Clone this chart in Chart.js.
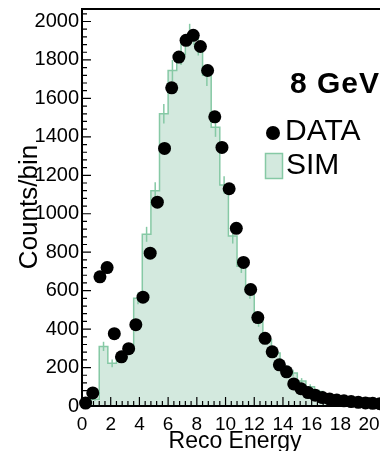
<!DOCTYPE html>
<html>
<head>
<meta charset="utf-8">
<script src="https://cdn.jsdelivr.net/npm/chart.js@4.4.0/dist/chart.umd.min.js"></script>
<style>
  html, body { margin: 0; padding: 0; background: #fff; overflow: hidden; }
  #wrap { width: 380px; height: 451px; overflow: hidden; }
  canvas { display: block; }
</style>
</head>
<body>
<div id="wrap"><canvas id="chart" width="433" height="451"></canvas></div>
<script>
// DATA points (bin centres, 0.5 wide bins)
const dataEnergy = [
  0.25, 0.75, 1.25, 1.75, 2.25, 2.75, 3.25, 3.75, 4.25, 4.75,
  5.25, 5.75, 6.25, 6.75, 7.25, 7.75, 8.25, 8.75, 9.25, 9.75,
  10.25, 10.75, 11.25, 11.75, 12.25, 12.75, 13.25, 13.75, 14.25, 14.75,
  15.25, 15.75, 16.25, 16.75, 17.25, 17.75, 18.25, 18.75, 19.25, 19.75,
  20.25, 20.75, 21.25, 21.75, 22.25, 22.75, 23.25, 23.75
];
const dataCounts = [
  15, 68, 672, 720, 376, 256, 298, 423, 566, 795,
  1060, 1340, 1655, 1815, 1902, 1928, 1870, 1745, 1504, 1345,
  1130, 924, 747, 606, 460, 352, 282, 214, 178, 115,
  90, 70, 56, 44, 36, 31, 27, 23, 19, 16,
  14, 12, 10, 9, 8, 7, 6, 5
];

// SIM histogram (0.6 wide bins starting at 0)
const simBinWidth = 0.6;
const simCounts = [
  12, 35, 310, 222, 255, 290, 560, 893, 1120, 1520,
  1745, 1830, 1930, 1880, 1720, 1450, 1150, 884, 727, 590,
  440, 345, 276, 205, 171, 130, 100, 75, 55, 42,
  32, 25, 20, 16, 13, 10, 8, 7, 6, 5
];
const simErrors = [
  5, 8, 24, 20, 21, 22, 31, 39, 44, 51,
  55, 56, 58, 57, 55, 50, 45, 39, 35, 32,
  28, 24, 22, 19, 17, 15, 13, 11, 10, 8,
  7, 7, 6, 5, 5, 4, 4, 3, 3, 3
];

const xTickValues = [0, 2, 4, 6, 8, 10, 12, 14, 16, 18, 20, 22, 24];
const yTickValues = [0, 200, 400, 600, 800, 1000, 1200, 1400, 1600, 1800, 2000];
const xMax = 24;
const yMax = 2065;

const simLine = "#86c9a5";
const simFill = "#d3e9de";
const fontName = "'Liberation Sans', Arial, Helvetica, sans-serif";

// step points: low edges plus the closing edge
const simPoints = simCounts.map((v, i) => ({ x: i * simBinWidth, y: v }));
simPoints.push({ x: simCounts.length * simBinWidth, y: simCounts[simCounts.length - 1] });

const dataPoints = dataEnergy.map((e, i) => ({ x: e, y: dataCounts[i] }));

// ------------------------------------
// frame, inside ticks, titles, legend
// ------------------------------------
const rootStyle = {
  id: "rootStyle",
  afterDatasetDraw(chart, args) {
    if (args.index !== 1) return;
    const ctx = chart.ctx;
    const xs = chart.scales.x, ys = chart.scales.y;
    ctx.save();
    ctx.strokeStyle = simLine;
    ctx.lineWidth = 1.5;
    simCounts.forEach((v, i) => {
      const px = xs.getPixelForValue((i + 0.5) * simBinWidth);
      ctx.beginPath();
      ctx.moveTo(px, ys.getPixelForValue(v - simErrors[i]));
      ctx.lineTo(px, ys.getPixelForValue(v + simErrors[i]));
      ctx.stroke();
    });
    ctx.restore();
  },
  afterDraw(chart) {
    const ctx = chart.ctx;
    const a = chart.chartArea;
    const xs = chart.scales.x, ys = chart.scales.y;
    ctx.save();

    // ticks inside the frame
    ctx.strokeStyle = "#000";
    ctx.lineWidth = 1.2;
    ctx.beginPath();
    for (let v = 0; v <= yMax; v += 40) {
      const y = ys.getPixelForValue(v);
      const len = v % 200 === 0 ? 9 : 5;
      ctx.moveTo(a.left, y);
      ctx.lineTo(a.left + len, y);
    }
    for (let i = 0; i * 0.4 <= xMax + 0.001; i++) {
      const x = xs.getPixelForValue(i * 0.4);
      const len = i % 5 === 0 ? 9 : 5;
      ctx.moveTo(x, a.bottom);
      ctx.lineTo(x, a.bottom - len);
    }
    ctx.stroke();

    // frame
    ctx.lineWidth = 2;
    ctx.strokeRect(a.left, a.top, a.right - a.left, a.bottom - a.top);

    // axis titles
    ctx.fillStyle = "#000";
    ctx.font = "23px " + fontName;
    ctx.textAlign = "center";
    ctx.textBaseline = "alphabetic";
    ctx.fillText("Reco Energy", 235, 448);

    ctx.save();
    ctx.translate(37, 207);
    ctx.rotate(-Math.PI / 2);
    ctx.font = "26px " + fontName;
    ctx.fillText("Counts/bin", 0, 0);
    ctx.restore();

    // energy label and legend
    ctx.textAlign = "left";
    ctx.font = "bold 30px " + fontName;
    ctx.letterSpacing = "1px";
    ctx.fillText("8 GeV", 290, 93);
    ctx.letterSpacing = "0px";

    ctx.beginPath();
    ctx.arc(273, 133, 7, 0, Math.PI * 2);
    ctx.fill();
    ctx.font = "30px " + fontName;
    ctx.fillText("DATA", 285, 140);

    ctx.fillStyle = simFill;
    ctx.fillRect(265.5, 153.5, 17, 25);
    ctx.strokeStyle = simLine;
    ctx.lineWidth = 1.5;
    ctx.strokeRect(265.5, 153.5, 17, 25);
    ctx.fillStyle = "#000";
    ctx.fillText("SIM", 286, 174);

    ctx.restore();
  },
};

new Chart(document.getElementById("chart"), {
  type: "line",
  data: {
    datasets: [
      {
        label: "DATA",
        data: dataPoints,
        showLine: false,
        pointRadius: 6.5,
        pointBackgroundColor: "#000",
        pointBorderWidth: 0,
        clip: false,
      },
      {
        label: "SIM",
        data: simPoints,
        stepped: true,
        borderColor: simLine,
        borderWidth: 1.5,
        backgroundColor: simFill,
        fill: "origin",
        pointRadius: 0,
      },
    ],
  },
  options: {
    responsive: false,
    animation: false,
    devicePixelRatio: 1,
    layout: { padding: { top: 9, left: 0, right: 0, bottom: 0 } },
    plugins: { legend: { display: false }, tooltip: { enabled: false } },
    scales: {
      x: {
        type: "linear",
        min: 0,
        max: xMax,
        afterBuildTicks: (s) => { s.ticks = xTickValues.map((v) => ({ value: v })); },
        afterFit: (s) => { s.height = 45; s.paddingLeft = 0; s.paddingRight = 0; },
        grid: { display: false, drawTicks: false },
        border: { display: false },
        ticks: {
          autoSkip: false,
          maxRotation: 0,
          padding: 7,
          color: "#000",
          font: { family: fontName, size: 19 },
          callback: (v) => String(v),
        },
      },
      y: {
        type: "linear",
        min: 0,
        max: yMax,
        afterBuildTicks: (s) => { s.ticks = yTickValues.map((v) => ({ value: v })); },
        afterFit: (s) => { s.width = 82; s.paddingTop = 0; s.paddingBottom = 0; },
        grid: { display: false, drawTicks: false },
        border: { display: false },
        ticks: {
          padding: 3,
          color: "#000",
          font: { family: fontName, size: 20 },
          callback: (v) => String(v),
        },
      },
    },
  },
  plugins: [rootStyle],
});
</script>
</body>
</html>
